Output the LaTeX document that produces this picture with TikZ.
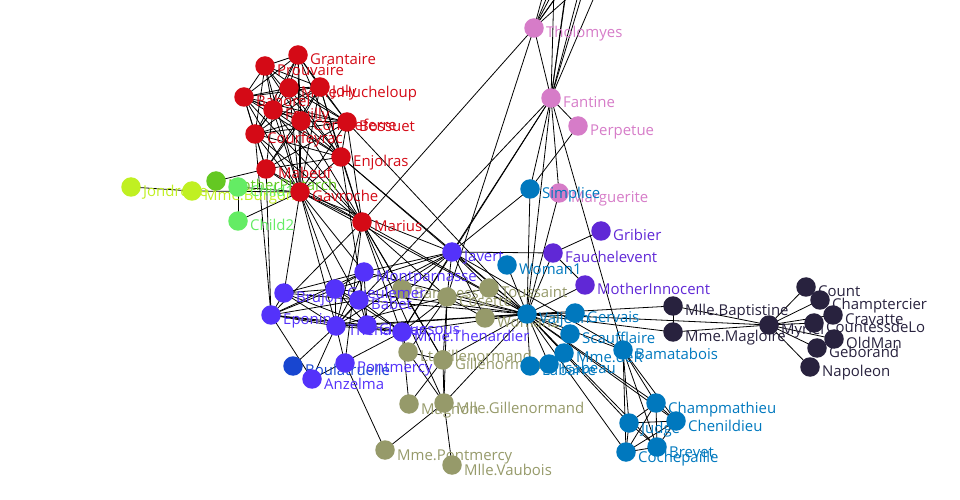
\documentclass[tikz,border=0pt]{standalone}
\usepackage{fontspec}
\setmainfont{Open Sans}
\definecolor{gNavy}{RGB}{40,34,62}
\definecolor{gPink}{RGB}{214,124,200}
\definecolor{gViolet}{RGB}{96,40,214}
\definecolor{gOlive}{RGB}{150,154,106}
\definecolor{gPurple}{RGB}{84,50,250}
\definecolor{gDeep}{RGB}{24,70,208}
\definecolor{gBlue}{RGB}{0,120,190}
\definecolor{gLime}{RGB}{192,240,34}
\definecolor{gGreen}{RGB}{100,200,34}
\definecolor{gMint}{RGB}{100,236,100}
\definecolor{gRed}{RGB}{212,10,22}
\def\ghosts{Listolier/555/-50, Fameuil/575/-70, Blacheville/590/-50,
  Favourite/610/-40, Dahlia/570/-40, Zephine/600/-65}
\def\people{MlleBaptistine/673/306/gNavy/Mlle.Baptistine, MmeMagloire/673/332/gNavy/Mme.Magloire,
  Myriel/769/325/gNavy/Myriel, Count/806/287/gNavy/Count,
  Champtercier/820/300/gNavy/Champtercier, Cravatte/833/315/gNavy/Cravatte,
  CountessdeLo/814/323/gNavy/CountessdeLo, OldMan/834/339/gNavy/OldMan,
  Geborand/817/348/gNavy/Geborand, Napoleon/810/367/gNavy/Napoleon,
  Tholomyes/534/28/gPink/Tholomyes, Fantine/551/98/gPink/Fantine,
  Perpetue/578/126/gPink/Perpetue, Marguerite/559/193/gPink/Marguerite,
  Gribier/601/231/gViolet/Gribier, Fauchelevent/553/253/gViolet/Fauchelevent,
  MotherInnocent/585/285/gViolet/MotherInnocent,
  BaronessT/402/289/gOlive/BaronessT, Cosette/447/297/gOlive/Cosette,
  Toussaint/489/288/gOlive/Toussaint, Woman2/485/318/gOlive/Woman2,
  LtGillenormand/408/352/gOlive/Lt.Gillenormand, Gillenormand/443/360/gOlive/Gillenormand,
  Magnon/409/404/gOlive/Magnon, MlleGillenormand/444/403/gOlive/Mlle.Gillenormand,
  MmePontmercy/385/450/gOlive/Mme.Pontmercy, MlleVaubois/452/465/gOlive/Mlle.Vaubois,
  Javert/452/252/gPurple/Javert, Montparnasse/364/272/gPurple/Montparnasse,
  Brujon/284/293/gPurple/Brujon, Eponine/271/315/gPurple/Eponine,
  Gueulemer/335/289/gPurple/Gueulemer, Babet/359/300/gPurple/Babet,
  Thenardier/336/326/gPurple/Thenardier, Claquesous/367/325/gPurple/Claquesous,
  MmeThenardier/402/332/gPurple/Mme.Thenardier, Boulatruelle/293/366/gDeep/Boulatruelle,
  Pontmercy/345/363/gPurple/Pontmercy, Anzelma/312/379/gPurple/Anzelma,
  Woman1/507/265/gBlue/Woman1, Simplice/530/189/gBlue/Simplice,
  Labarre/530/366/gBlue/Labarre, Isabeau/549/364/gBlue/Isabeau,
  MmeDeR/564/353/gBlue/Mme.deR, Valjean/527/314/gBlue/Valjean,
  Gervais/575/313/gBlue/Gervais, Scaufflaire/570/334/gBlue/Scaufflaire,
  Bamatabois/623/350/gBlue/Bamatabois, Judge/629/423/gBlue/Judge,
  Champmathieu/656/403/gBlue/Champmathieu, Chenildieu/676/421/gBlue/Chenildieu,
  Cochepaille/626/452/gBlue/Cochepaille, Brevet/657/447/gBlue/Brevet,
  Jondrette/131/187/gLime/Jondrette, MmeBurgon/192/191/gLime/Mme.Burgon,
  MotherPlutarch/216/181/gGreen/MotherPlutarch, Child1/238/187/gMint/Child1,
  Child2/238/221/gMint/Child2,
  Grantaire/298/55/gRed/Grantaire, Prouvaire/265/66/gRed/Prouvaire,
  Bahorel/244/97/gRed/Bahorel, MmeHucheloup/289/88/gRed/Mme.Hucheloup,
  Joly/320/87/gRed/Joly, Feuilly/273/110/gRed/Feuilly,
  Combeferre/301/121/gRed/Combeferre, Bossuet/347/122/gRed/Bossuet,
  Courfeyrac/255/134/gRed/Courfeyrac, Enjolras/341/157/gRed/Enjolras,
  Mabeuf/266/169/gRed/Mabeuf, Gavroche/300/192/gRed/Gavroche,
  Marius/362/222/gRed/Marius}
\def\links{Myriel/{Napoleon,MlleBaptistine,MmeMagloire,CountessdeLo,Geborand,Champtercier,Cravatte,Count,OldMan},
  MmeMagloire/{MlleBaptistine},
  Valjean/{Labarre,MmeMagloire,MlleBaptistine,Myriel,Marguerite,MmeDeR,Isabeau,Gervais},
  Tholomyes/{Listolier,Fameuil,Blacheville,Favourite,Dahlia,Zephine},
  Listolier/{Fameuil,Blacheville,Favourite,Dahlia,Zephine},
  Fameuil/{Blacheville,Favourite,Dahlia,Zephine},
  Blacheville/{Favourite,Dahlia,Zephine},
  Favourite/{Dahlia,Zephine}, Dahlia/{Zephine},
  Fantine/{Tholomyes,Listolier,Fameuil,Blacheville,Favourite,Dahlia,Zephine,Marguerite,Valjean},
  MmeThenardier/{Fantine,Valjean},
  Thenardier/{MmeThenardier,Fantine,Valjean},
  Cosette/{MmeThenardier,Valjean,Tholomyes,Thenardier},
  Javert/{Valjean,Fantine,Thenardier,MmeThenardier,Cosette},
  Fauchelevent/{Valjean,Javert},
  Bamatabois/{Fantine,Javert,Valjean},
  Perpetue/{Fantine},
  Simplice/{Perpetue,Valjean,Fantine,Javert},
  Scaufflaire/{Valjean}, Woman1/{Valjean},
  Judge/{Valjean,Bamatabois},
  Champmathieu/{Judge,Bamatabois,Valjean},
  Brevet/{Judge,Champmathieu,Valjean,Bamatabois},
  Chenildieu/{Judge,Champmathieu,Brevet,Valjean,Bamatabois},
  Cochepaille/{Judge,Champmathieu,Brevet,Chenildieu,Valjean,Bamatabois},
  Pontmercy/{Thenardier}, Boulatruelle/{Thenardier},
  Eponine/{MmeThenardier,Thenardier},
  Anzelma/{Eponine,Thenardier,MmeThenardier},
  Woman2/{Valjean,Cosette,Javert},
  MotherInnocent/{Fauchelevent,Valjean}, Gribier/{Fauchelevent},
  MmeBurgon/{Jondrette},
  Gavroche/{MmeBurgon,Thenardier,Javert,Valjean},
  Gillenormand/{Cosette,Valjean},
  Magnon/{Gillenormand,MmeThenardier},
  MlleGillenormand/{Gillenormand,Cosette,Valjean},
  MmePontmercy/{MlleGillenormand,Pontmercy},
  MlleVaubois/{MlleGillenormand},
  LtGillenormand/{MlleGillenormand,Gillenormand,Cosette},
  Marius/{MlleGillenormand,Gillenormand,Pontmercy,LtGillenormand,Cosette,Valjean,Tholomyes,Thenardier,Eponine,Gavroche},
  BaronessT/{Gillenormand,Marius},
  Mabeuf/{Marius,Eponine,Gavroche},
  Enjolras/{Marius,Gavroche,Javert,Mabeuf,Valjean},
  Combeferre/{Enjolras,Marius,Gavroche,Mabeuf},
  Prouvaire/{Gavroche,Enjolras,Combeferre},
  Feuilly/{Gavroche,Enjolras,Prouvaire,Combeferre,Mabeuf,Marius},
  Courfeyrac/{Marius,Enjolras,Combeferre,Gavroche,Mabeuf,Eponine,Feuilly,Prouvaire},
  Bahorel/{Combeferre,Gavroche,Courfeyrac,Mabeuf,Enjolras,Feuilly,Prouvaire,Marius},
  Bossuet/{Marius,Courfeyrac,Gavroche,Bahorel,Enjolras,Feuilly,Prouvaire,Combeferre,Mabeuf,Valjean},
  Joly/{Bahorel,Bossuet,Gavroche,Courfeyrac,Enjolras,Feuilly,Prouvaire,Combeferre,Mabeuf,Marius},
  Grantaire/{Bossuet,Enjolras,Combeferre,Courfeyrac,Joly,Gavroche,Bahorel,Feuilly,Prouvaire},
  MotherPlutarch/{Mabeuf},
  Gueulemer/{Thenardier,Valjean,MmeThenardier,Javert,Gavroche,Eponine},
  Babet/{Thenardier,Gueulemer,Valjean,MmeThenardier,Javert,Gavroche,Eponine},
  Claquesous/{Thenardier,Babet,Gueulemer,Valjean,MmeThenardier,Javert,Eponine,Enjolras},
  Montparnasse/{Javert,Babet,Gueulemer,Claquesous,Valjean,Gavroche,Eponine,Thenardier},
  Toussaint/{Cosette,Javert,Valjean},
  Child1/{Gavroche}, Child2/{Gavroche,Child1},
  Brujon/{Babet,Gueulemer,Thenardier,Gavroche,Eponine,Claquesous,Montparnasse},
  MmeHucheloup/{Bossuet,Joly,Grantaire,Bahorel,Courfeyrac,Gavroche,Enjolras}}
\begin{document}
\begin{tikzpicture}[x=1bp,y=-1bp,
        dot/.style={circle,minimum size=19.5bp,inner sep=0pt},
        lbl/.style={anchor=base west,inner sep=0pt,font=\fontsize{15}{18}\selectfont},
        link/.style={line width=0.8bp}]
\useasboundingbox (0,0) rectangle (960,500);
\clip (0,0) rectangle (960,500);
\foreach \n/\x/\y in \ghosts
    \coordinate (\n) at (\x,\y);
\foreach \n/\x/\y/\c/\t in \people
    \coordinate (\n) at (\x,\y);
\foreach \a/\bs in \links
    \foreach \b in \bs
        \draw[link] (\a) -- (\b);
\foreach \n/\x/\y/\c/\t in \people {
    \node[dot,fill=\c] (\n-dot) at (\n) {};
    \node[lbl,text=\c] (\n-lbl) at (\x+12,\y+10) {\t};
}
\end{tikzpicture}
\end{document}
